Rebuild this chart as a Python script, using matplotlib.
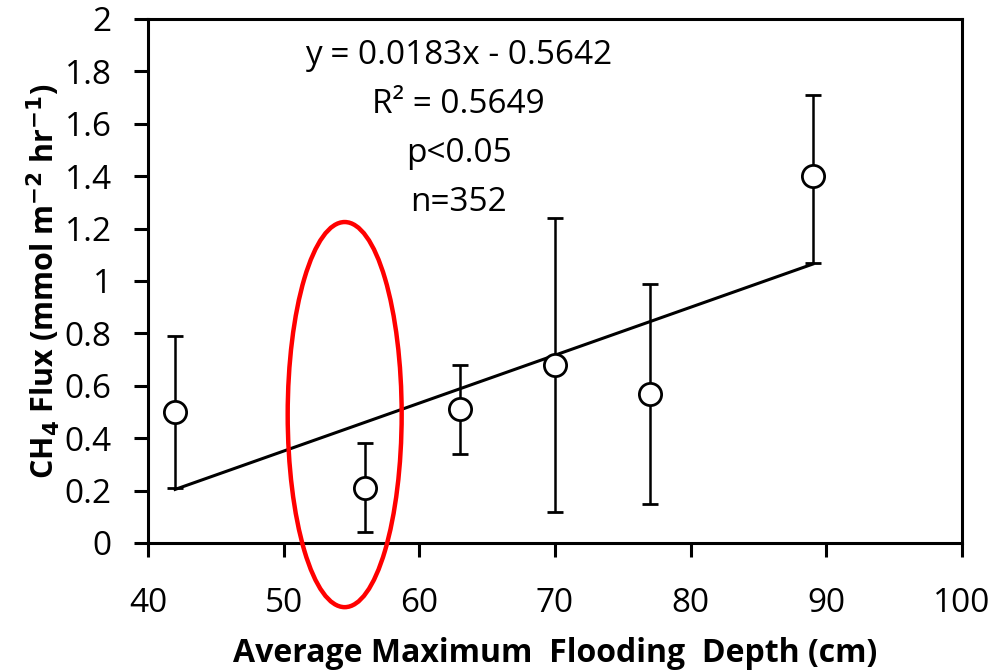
import matplotlib.pyplot as plt
from matplotlib.patches import Ellipse
import numpy as np

# Data
depth = [42, 56, 63, 70, 77, 89]
flux = [0.50, 0.21, 0.51, 0.68, 0.57, 1.40]
err_up = [0.29, 0.17, 0.17, 0.56, 0.42, 0.31]
err_down = [0.29, 0.17, 0.17, 0.56, 0.42, 0.33]

slope = 0.0183
intercept = -0.5642
stats_lines = ['y = 0.0183x - 0.5642', 'R² = 0.5649', 'p<0.05', 'n=352']

plt.rcParams['font.family'] = ['Open Sans', 'DejaVu Sans']

fig = plt.figure(figsize=(9.97, 6.71), dpi=100)
ax = fig.add_axes([0.1484, 0.1908, 0.8165, 0.7809])

# Trend line over the data range
fit_x = np.array([min(depth), max(depth)])
ax.plot(fit_x, slope * fit_x + intercept, color='black', lw=2.2, zorder=2)

ax.errorbar(depth, flux, yerr=[err_down, err_up], fmt='o', ms=16,
            mfc='white', mec='black', mew=2, ecolor='black', elinewidth=1.8,
            capsize=6, capthick=1.8, zorder=3)

# Highlight around the 56 cm point
ell = Ellipse((54.5, 0.49), 8.4, 1.47, fill=False, edgecolor='#ff0000',
              lw=3.2, clip_on=False, zorder=4)
ax.add_patch(ell)

for i, line in enumerate(stats_lines):
    ax.text(62.9, 1.86 - i * 0.187, line, ha='center', va='center', fontsize=24)

ax.set_xlim(40, 100)
ax.set_ylim(0, 2)
ax.set_xticks(range(40, 101, 10))
ax.set_yticks(np.arange(0, 2.01, 0.2))
ax.set_yticklabels(['0', '0.2', '0.4', '0.6', '0.8', '1', '1.2', '1.4', '1.6', '1.8', '2'])

for s in ax.spines.values():
    s.set_linewidth(2.2)
ax.tick_params(axis='both', width=2.2, length=10, labelsize=24, direction='out')
ax.tick_params(axis='x', pad=22)
ax.tick_params(axis='y', pad=16)

ax.set_xlabel('Average Maximum  Flooding  Depth (cm)', fontsize=23, fontweight='bold', labelpad=12)
ax.set_ylabel('CH$_\\mathbf{4}$ Flux (mmol m$^\\mathbf{-2}$ hr$^\\mathbf{-1}$)', fontsize=22,
              fontweight='bold', labelpad=2)

fig.savefig('out.png', dpi=100)
